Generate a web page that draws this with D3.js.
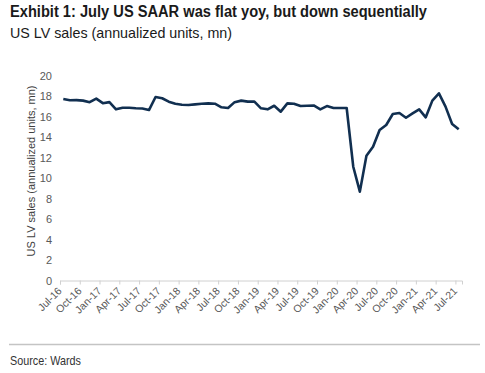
<!DOCTYPE html>
<html>
<head>
<meta charset="utf-8">
<script src="https://cdn.jsdelivr.net/npm/d3@7"></script>
<style>
  body { margin: 0; background: #fff; }
  svg { display: block; }
</style>
</head>
<body>
<svg id="chart" width="485" height="373"></svg>
<script>
// monthly US LV SAAR, Jul-16 .. Jul-21
var months = d3.timeMonth.range(new Date(2016, 6, 1), new Date(2021, 7, 1)).map(d3.timeFormat("%b-%y"));
var sales = [17.7, 17.58, 17.6, 17.55, 17.4, 17.75, 17.3, 17.4, 16.7, 16.86, 16.86, 16.8,
             16.78, 16.63, 17.9, 17.78, 17.45, 17.25, 17.15, 17.12, 17.18, 17.25, 17.28, 17.25,
             16.9, 16.83, 17.4, 17.55, 17.45, 17.45, 16.8, 16.7, 17.05, 16.47, 17.28, 17.25,
             17.02, 17.05, 17.08, 16.7, 17.02, 16.83, 16.83, 16.83, 11.1, 8.67, 12.18, 13.05,
             14.68, 15.17, 16.24, 16.34, 15.88, 16.3, 16.7, 15.92, 17.55, 18.26, 16.96, 15.27, 14.75];
var xTickLabels = ["Jul-16", "Oct-16", "Jan-17", "Apr-17", "Jul-17", "Oct-17", "Jan-18", "Apr-18",
                   "Jul-18", "Oct-18", "Jan-19", "Apr-19", "Jul-19", "Oct-19", "Jan-20", "Apr-20",
                   "Jul-20", "Oct-20", "Jan-21", "Apr-21", "Jul-21"];
var yTicks = [0, 2, 4, 6, 8, 10, 12, 14, 16, 18, 20];

var svg = d3.select("#chart");
var sans = "'Liberation Sans', Arial, sans-serif";

// narrow headline faces are not installed, so squeeze to the reference widths
svg.append("text").attr("x", 10).attr("y", 17)
  .attr("textLength", 417).attr("lengthAdjust", "spacingAndGlyphs")
  .style("font-family", sans).style("font-weight", "bold").style("font-size", "16px")
  .style("fill", "#1a1a1a")
  .text("Exhibit 1: July US SAAR was flat yoy, but down sequentially");
svg.append("text").attr("x", 10).attr("y", 38)
  .attr("textLength", 222).attr("lengthAdjust", "spacingAndGlyphs")
  .style("font-family", sans).style("font-size", "14.5px").style("fill", "#1a1a1a")
  .text("US LV sales (annualized units, mn)");

var x = d3.scaleLinear().domain([0, months.length]).range([60, 462]);
var y = d3.scaleLinear().domain([0, 20]).range([280.5, 75.5]);

// y axis labels only
var yAxis = svg.append("g").attr("transform", "translate(52,0)")
  .call(d3.axisLeft(y).tickValues(yTicks).tickSize(0).tickPadding(0));
yAxis.select(".domain").remove();
yAxis.selectAll("text").style("font-family", sans).style("font-size", "11px").style("fill", "#595959");

svg.append("text")
  .attr("transform", "translate(35,171) rotate(-90)")
  .attr("text-anchor", "middle")
  .style("font-family", sans).style("font-size", "11px").style("fill", "#404040")
  .text("US LV sales (annualized units, mn)");

// x axis
var tickIdx = xTickLabels.map(function(d, i) { return i * 3; });
var xAxis = svg.append("g").attr("transform", "translate(0,280.5)")
  .call(d3.axisBottom(x).tickValues(tickIdx).tickSize(4)
    .tickFormat(function(d, i) { return xTickLabels[i]; }));
xAxis.select(".domain").attr("stroke", "#d0d0d0").attr("stroke-width", 1);
xAxis.selectAll(".tick line").attr("stroke", "#d0d0d0");
xAxis.selectAll("text")
  .attr("text-anchor", "end")
  .attr("dy", null).attr("y", 0)
  .attr("transform", "translate(2,11) rotate(-45)")
  .style("font-family", sans).style("font-size", "10.5px").style("fill", "#595959");

var line = d3.line()
  .x(function(d, i) { return x(i + 0.5); })
  .y(function(d) { return y(d); });

svg.append("path").datum(sales)
  .attr("d", line)
  .attr("fill", "none")
  .attr("stroke", "#112f50")
  .attr("stroke-width", 2.6)
  .attr("stroke-linejoin", "round");

svg.append("line").attr("x1", 9).attr("x2", 480).attr("y1", 344.5).attr("y2", 344.5)
  .attr("stroke", "#c4c4c4").attr("stroke-width", 1.5);
svg.append("text").attr("x", 10).attr("y", 365)
  .attr("textLength", 71).attr("lengthAdjust", "spacingAndGlyphs")
  .style("font-family", sans).style("font-size", "13px").style("fill", "#333")
  .text("Source: Wards");
</script>
</body>
</html>
